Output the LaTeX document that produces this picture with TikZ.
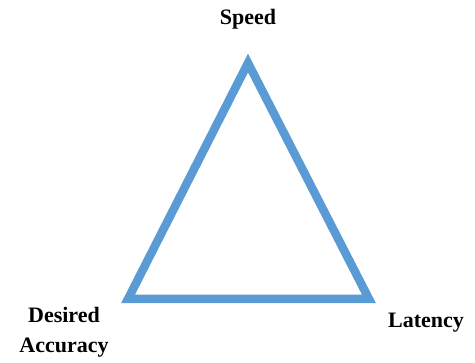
\documentclass[tikz,border=0pt]{standalone}
\usepackage{fontspec}
\setmainfont{Liberation Serif}
\begin{document}
\begin{tikzpicture}[x=1pt,y=-1pt,
  lbl/.style={font=\fontsize{22}{30}\selectfont\bfseries, align=center, inner sep=0pt},
  tri/.style={draw=triblue, line width=8.5pt, line join=miter}]
\definecolor{triblue}{RGB}{91,155,213}
\useasboundingbox (0,0) rectangle (475,363);
\coordinate (top) at (248,63);
\coordinate (bl) at (128,299);
\coordinate (br) at (369,299);
\draw[tri] (top) -- (br) -- (bl) -- cycle;
\node[lbl] (speed) at (248,19) {Speed};
\node[lbl] (acc) at (64,332) {Desired\\Accuracy};
\node[lbl] (lat) at (426,323) {Latency};
\end{tikzpicture}
\end{document}
